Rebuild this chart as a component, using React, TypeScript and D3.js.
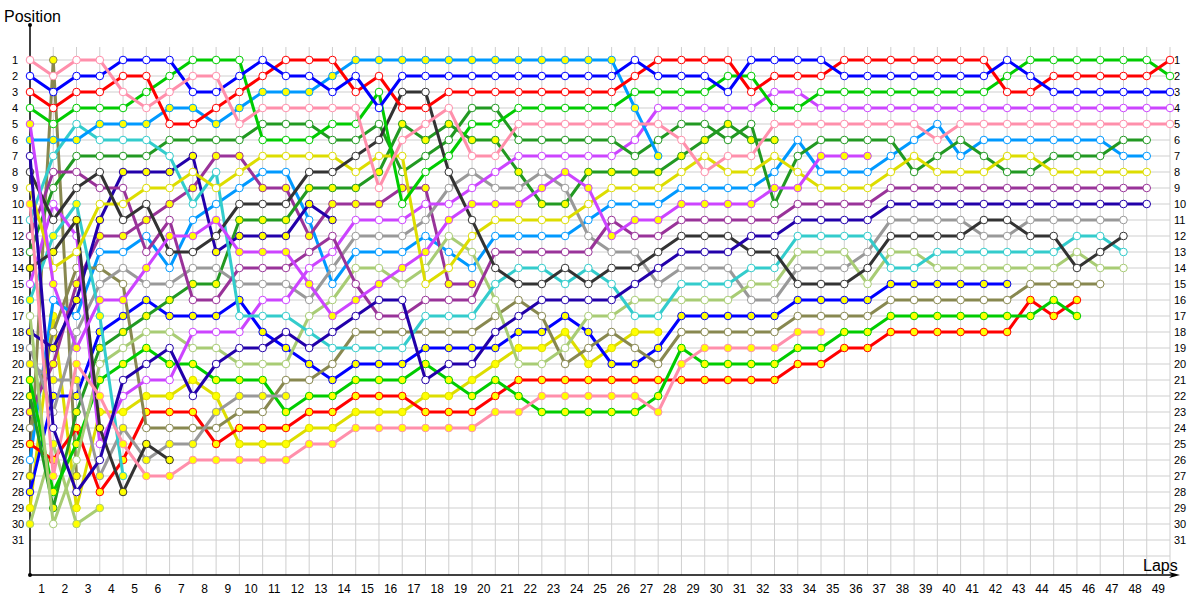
import React from "react";
import * as d3 from "d3";

const W = 1200;
const H = 600;

// Drivers: colour code + fill ("o" = white marker, "y" = yellow marker), in grid order
const driverCodes = [
  "PKo", "BLo", "RDo", "GRo", "VIy", "LBy", "NVo", "BKo", "YEo", "PKy",
  "CYo", "PUo", "DGo", "BKy", "VIo", "CYy", "LGo", "NVy", "GYo", "GYy",
  "GRy", "DGy", "PUy", "OLo", "RDy", "LBo", "OLy", "BLy", "YEy", "LGy",
];

const lineColors: Record<string, string> = {
  PK: "#ff8fab", BL: "#0000ff", RD: "#ff0000", GR: "#00cc00", VI: "#cc44ff",
  LB: "#0099ff", NV: "#2200aa", BK: "#333333", YE: "#dddd00", CY: "#33cccc",
  PU: "#993399", DG: "#229922", LG: "#a8cc74", GY: "#999999", OL: "#888850",
};
const markerFills: Record<string, string> = { o: "#ffffff", y: "#ffff00" };

// Running order at the end of each lap (lap 0 = grid)
const lapOrder = [
  "PKo BLo RDo GRo VIy LBy NVo BKo YEo PKy CYo PUo DGo BKy VIo CYy LGo NVy GYo GYy GRy DGy PUy OLo RDy LBo OLy BLy YEy LGy",
  "OLy PKo BLo RDo GRo LBy CYo PUo DGo VIo BKo CYy BKy YEo VIy LBo YEy OLo NVy PUy GYy BLy GYo NVo LGy RDy PKy GRy DGy LGo",
  "PKo BLo RDo GRo CYo LBy DGo PUo BKo CYy BKy VIo YEo OLo PUy NVy LBo GYo VIy PKy GYy BLy DGy RDy GRy LGo OLy NVo YEy LGy",
  "PKo BLo RDo GRo LBy CYo DGo BKo PUo YEo NVy PUy LBo OLo GYo VIy CYy BLy DGy LGo GRy PKy YEy BKy VIo NVo GYy RDy LGy",
  "BLo RDo PKo GRo LBy CYo DGo NVy PUo YEo BKo PUy LBo GYo OLo VIy BLy DGy LGo GRy NVo VIo YEy GYy PKy RDy CYy BKy",
  "BLo RDo GRo PKo LBy CYo DGo NVy YEo BKo PUy LBo PUo VIy GYo BLy DGy LGo GRy NVo VIo YEy RDy OLo BKy GYy PKy",
  "BLo GRo PKo LBy RDo DGo CYo NVy YEo PUy PUo VIy BKo LBo GYo DGy BLy LGo NVo GRy VIo YEy RDy OLo GYy BKy PKy",
  "GRo PKo BLo LBy RDo DGo NVy YEo PUy CYo LBo VIy BKo GYo DGy PUo BLy VIo LGo GRy YEy NVo RDy OLo GYy PKy",
  "GRo PKo BLo RDo LBy DGo PUy CYo YEo LBo VIy BKo NVy GYo DGy PUo BLy VIo LGo NVo GRy YEy GYy OLo RDy PKy",
  "GRo BLo RDo LBy PKo DGo PUy YEo LBo BKo DGy NVy VIy PUo GYo BLy CYo VIo NVo LGo GRy GYy OLo RDy YEy PKy",
  "BLo RDo LBy PKo DGo GRo YEo LBo PUy BKo DGy NVy VIy PUo GYo VIo CYo BLy NVo LGo GRy GYy OLo RDy YEy PKy",
  "RDo BLo LBy PKo DGo GRo YEo LBo PUy BKo DGy NVy VIy PUo GYo VIo CYo NVo BLy LGo OLo GYy GRy RDy YEy PKy",
  "RDo BLo LBy PKo DGo GRo YEo BKo DGy NVy LBo PUy PUo VIo VIy GYo LGo CYo NVo BLy OLo GRy RDy YEy PKy",
  "RDo LBy BLo PKo GRo DGo YEo BKo DGy PUy NVy PUo VIo GYo LBo LGo VIy NVo CYo OLo BLy GRy RDy YEy PKy",
  "LBy BLo RDo PKo GRo DGo BKo YEo DGy PUy VIo GYo LBo LGo PUo VIy NVo OLo CYo BLy GRy RDy YEy PKy",
  "LBy RDo GRo BLo DGo BKo YEo DGy PKo PUy VIo GYo LBo LGo VIy NVo PUo OLo CYo BLy GRy RDy YEy PKy",
  "LBy BLo BKo RDo DGy PKo YEo DGo PUy GRo VIo GYo LBo VIy LGo NVo PUo OLo CYo BLy GRy RDy YEy PKy",
  "LBy BLo BKo RDo PKo DGy DGo GRo PUy VIo GYo LBo VIy LGo YEo PUo CYo OLo BLy GRy NVo YEy RDy PKy",
  "LBy BLo RDo PKo DGy DGo GRo BKo GYo VIo VIy LGo LBo YEo PUy PUo CYo OLo BLy NVo GRy YEy RDy PKy",
  "LBy BLo RDo DGo GRo DGy PKo GYo VIo VIy BKo YEo LGo LBo PUy PUo CYo OLo BLy NVo YEy GRy RDy PKy",
  "LBy BLo RDo DGo GRo DGy PKo VIo GYo VIy YEo LBo PUo BKo CYo LGo OLo NVo BLy YEy GRy RDy PKy",
  "LBy BLo RDo GRo PKo DGo VIo DGy GYo VIy YEo LBo PUo CYo BKo OLo NVo BLy YEy LGo RDy GRy PKy",
  "LBy BLo RDo GRo PKo DGo VIo GYo VIy DGy YEo LBo PUo CYo BKo NVo OLo BLy YEy LGo RDy PKy GRy",
  "LBy BLo RDo GRo PKo DGo VIo VIy GYo DGy YEo LBo PUo BKo CYo NVo BLy YEy LGo OLo RDy PKy GRy",
  "LBy BLo RDo GRo PKo DGo VIo DGy VIy YEo LBo GYo PUo CYo BKo NVo LGo BLy OLo YEy RDy PKy GRy",
  "LBy BLo RDo GRo PKo DGo VIo DGy YEo LBo PUo VIy GYo BKo CYo NVo LGo OLo YEy BLy RDy PKy GRy",
  "BLo RDo GRo LBy PKo VIo DGo DGy YEo LBo VIy PUo GYo BKo NVo LGo CYo YEy OLo BLy RDy PKy GRy",
  "RDo BLo GRo VIo PKo DGo LBy DGy YEo LBo VIy PUo BKo NVo GYo LGo CYo YEy BLy OLo RDy GRy PKy",
  "RDo BLo GRo VIo DGo PKo DGy YEo LBo VIy PUo BKo NVo GYo CYo LGo BLy OLo GRy PKy RDy",
  "RDo BLo GRo VIo DGo DGy YEo PKo LBo VIy PUo BKo NVo GYo CYo LGo BLy OLo PKy GRy RDy",
  "RDo GRo BLo VIo DGy DGo PKo YEo LBo VIy PUo BKo NVo GYo CYo LGo BLy OLo PKy GRy RDy",
  "BLo GRo RDo VIo DGo DGy PKo YEo LBo VIy PUo NVo BKo CYo LGo GYo BLy OLo PKy GRy RDy",
  "BLo RDo VIo GRo PKo DGy YEo LBo VIy DGo PUo NVo BKo CYo LGo GYo BLy OLo PKy GRy RDy",
  "BLo RDo VIo GRo PKo LBo DGo YEo VIy PUo NVo CYo LGo GYo BKo BLy OLo PKy GRy RDy",
  "BLo RDo GRo VIo PKo DGo VIy LBo YEo PUo NVo CYo LGo GYo BKo BLy OLo PKy GRy RDy",
  "RDo BLo GRo VIo PKo DGo VIy LBo YEo PUo NVo CYo LGo GYo BKo BLy OLo GRy RDy",
  "RDo BLo GRo VIo PKo DGo VIy LBo YEo PUo NVo CYo GYo BKo LGo BLy OLo GRy RDy",
  "RDo BLo GRo VIo PKo DGo LBo YEo PUo NVo GYo BKo LGo CYo BLy OLo GRy RDy",
  "RDo BLo GRo VIo PKo LBo YEo DGo PUo NVo GYo BKo LGo CYo BLy OLo GRy RDy",
  "RDo BLo GRo VIo LBo PKo DGo YEo PUo NVo GYo BKo CYo LGo BLy OLo GRy RDy",
  "RDo BLo GRo VIo PKo DGo LBo YEo PUo NVo GYo BKo CYo LGo BLy OLo GRy RDy",
  "RDo BLo GRo VIo PKo LBo DGo YEo PUo NVo BKo GYo CYo LGo BLy OLo GRy RDy",
  "BLo GRo RDo VIo PKo LBo YEo DGo PUo NVo BKo GYo CYo LGo BLy OLo GRy RDy",
  "GRo BLo RDo VIo PKo LBo YEo DGo PUo NVo GYo BKo CYo LGo OLo RDy GRy",
  "GRo RDo BLo VIo PKo LBo DGo YEo PUo NVo GYo BKo CYo LGo OLo GRy RDy",
  "GRo RDo BLo VIo PKo LBo DGo YEo PUo NVo GYo CYo LGo BKo OLo RDy GRy",
  "GRo RDo BLo VIo PKo LBo DGo YEo PUo NVo GYo CYo BKo LGo OLo",
  "GRo RDo BLo VIo PKo DGo LBo YEo PUo NVo GYo BKo CYo LGo",
  "GRo RDo BLo VIo PKo DGo LBo YEo PUo NVo",
  "RDo GRo BLo VIo PKo",
];

const lapTicks = d3.range(1, 50);
const positionTicks = d3.range(1, 32);
const gridPositions = d3.range(1, 33);

export default function App() {
  const x = d3.scaleLinear().domain([0, 49]).range([30, 1170]);
  const y = d3.scaleLinear().domain([1, 31]).range([60, 540]);
  const orders = lapOrder.map((s) => s.trim().split(/\s+/));

  const series = driverCodes.map((code) => {
    const pts: [number, number][] = [];
    orders.forEach((o, lap) => {
      const i = o.indexOf(code);
      if (i >= 0) pts.push([lap, i + 1]);
    });
    return {
      code,
      color: lineColors[code.slice(0, 2)],
      fill: markerFills[code.slice(2)],
      pts,
    };
  });

  const line = d3
    .line<[number, number]>()
    .x((d) => x(d[0]))
    .y((d) => y(d[1]));

  const font = "'Liberation Sans', Arial, sans-serif";
  const axisY = 575;

  return (
    <svg
      width={W}
      height={H}
      style={{ position: "fixed", left: 0, top: 0, background: "#fff" }}
      fontFamily={font}
    >
      <rect x={0} y={0} width={W} height={H} fill="#fff" />
      {/* grid */}
      <g stroke="#cfcfcf" strokeWidth={1}>
        {lapTicks.map((k) => (
          <line key={"v" + k} x1={x(k)} x2={x(k)} y1={47} y2={axisY} />
        ))}
        {gridPositions.map((p) => (
          <line key={"h" + p} x1={x(0)} x2={x(49)} y1={y(p)} y2={y(p)} />
        ))}
      </g>
      {/* axes */}
      <line x1={30} x2={30} y1={25} y2={axisY} stroke="#000" strokeWidth={1.5} />
      <circle cx={30} cy={25} r={2} fill="#000" />
      <circle cx={30} cy={axisY} r={2} fill="#000" />
      <line x1={30} x2={1172} y1={axisY} y2={axisY} stroke="#000" strokeWidth={1.5} />
      <path d={`M${1180},${axisY} L${1169},${axisY - 3} L${1172},${axisY} L${1169},${axisY + 3} Z`} fill="#000" />
      <text x={4} y={22} fontSize={16} fill="#000">Position</text>
      <text x={1143} y={571} fontSize={16} fill="#000">Laps</text>
      {/* tick labels */}
      <g fontSize={11} fill="#000">
        {positionTicks.map((p) => (
          <text key={"l" + p} x={12} y={y(p) + 4}>{p}</text>
        ))}
        {positionTicks.map((p) => (
          <text key={"r" + p} x={1174} y={y(p) + 4}>{p}</text>
        ))}
      </g>
      <g fontSize={12} fill="#000" textAnchor="middle">
        {lapTicks.map((k) => (
          <text key={"x" + k} x={x(k - 0.5)} y={593}>{k}</text>
        ))}
      </g>
      {/* series */}
      {series
        .slice()
        .reverse()
        .map((s) => (
          <g key={s.code}>
            <path d={line(s.pts) || ""} fill="none" stroke={s.color} strokeWidth={3} strokeLinejoin="round" />
            {s.pts.map((p) => (
              <circle
                key={p[0]}
                cx={x(p[0])}
                cy={y(p[1])}
                r={3.8}
                fill={s.fill}
                stroke={s.color}
                strokeWidth={1}
              />
            ))}
          </g>
        ))}
    </svg>
  );
}
